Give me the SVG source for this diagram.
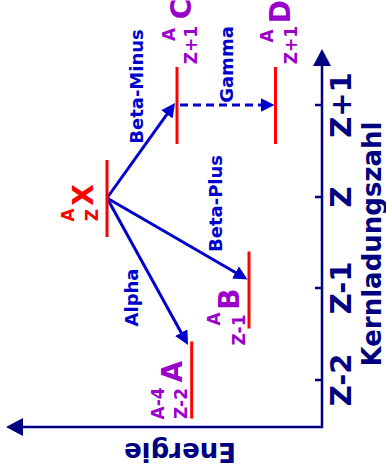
<svg xmlns="http://www.w3.org/2000/svg" width="386" height="472" viewBox="0 0 386 472">
<defs>
<style>
text{font-family:"DejaVu Sans","Liberation Sans",sans-serif;font-weight:bold;text-anchor:middle}
.ax{stroke:#000080;stroke-width:2.5;fill:none}
.axt{fill:#000080}
.arr{stroke:#0000cc;stroke-width:3;fill:none}
.arrt{fill:#0000cc;font-size:18px}
.lvl{stroke:#ff0000;stroke-width:3}
.big{font-size:28px}
.sm{font-size:17px}
.pur{fill:#9900cc}
.red{fill:#ff0000}
</style>
<marker id="ah" viewBox="0 0 14 14" markerWidth="14" markerHeight="14" markerUnits="userSpaceOnUse" refX="4" refY="7" orient="auto">
<path d="M0,0 L14,7 L0,14 z" fill="#0000cc"/>
</marker>
<marker id="axh" viewBox="0 0 17 18" markerWidth="17" markerHeight="18" markerUnits="userSpaceOnUse" refX="5" refY="9" orient="auto">
<path d="M0,0 L17,9 L0,18 z" fill="#000080"/>
</marker>
</defs>
<g id="axes">
<line class="ax" x1="322" y1="428" x2="322" y2="61" marker-end="url(#axh)"/>
<line class="ax" x1="323" y1="427" x2="18" y2="427" marker-end="url(#axh)"/>
<line class="ax" x1="315" y1="105" x2="322" y2="105"/>
<line class="ax" x1="315" y1="197" x2="322" y2="197"/>
<line class="ax" x1="315" y1="288" x2="322" y2="288"/>
<line class="ax" x1="315" y1="380" x2="322" y2="380"/>
<text class="axt" font-size="29" transform="translate(350.5,105) rotate(-90)">Z+1</text>
<text class="axt" font-size="29" transform="translate(350.5,197) rotate(-90)">Z</text>
<text class="axt" font-size="29" transform="translate(350.5,288) rotate(-90)">Z-1</text>
<text class="axt" font-size="29" transform="translate(350.5,380) rotate(-90)">Z-2</text>
<text class="axt" font-size="26" transform="translate(381,244) rotate(-90)">Kernladungszahl</text>
<text class="axt" font-size="26" transform="translate(180,443) rotate(180)">Energie</text>
</g>
<g id="connectors">
<line class="arr" x1="107" y1="198" x2="169.2" y2="111.1" marker-end="url(#ah)"/>
<line class="arr" x1="107" y1="198" x2="238.9" y2="274.5" marker-end="url(#ah)"/>
<line class="arr" x1="107" y1="198" x2="183.2" y2="336.2" marker-end="url(#ah)"/>
<line class="arr" x1="180" y1="105" x2="264.5" y2="105" stroke-dasharray="8,5" marker-end="url(#ah)"/>
<text class="arrt" transform="translate(143,86.5) rotate(-90)">Beta-Minus</text>
<text class="arrt" transform="translate(233,64.5) rotate(-90)">Gamma</text>
<text class="arrt" transform="translate(222,203.5) rotate(-90)">Beta-Plus</text>
<text class="arrt" transform="translate(138,297.5) rotate(-90)">Alpha</text>
</g>
<g id="X">
<line class="lvl" x1="107" y1="160" x2="107" y2="237"/>
<text class="red big" transform="translate(93,195) rotate(-90)">X</text>
<text class="red sm" transform="translate(73.5,215) rotate(-90)">A</text>
<text class="red sm" transform="translate(98,215) rotate(-90)">Z</text>
</g>
<g id="C">
<line class="lvl" x1="177" y1="67" x2="177" y2="144"/>
<text class="pur big" transform="translate(191,9) rotate(-90)">C</text>
<text class="pur sm" transform="translate(174.5,34.5) rotate(-90)">A</text>
<text class="pur sm" transform="translate(196.5,45) rotate(-90)">Z+1</text>
</g>
<g id="D">
<line class="lvl" x1="275.5" y1="67" x2="275.5" y2="144"/>
<text class="pur big" transform="translate(290,11.7) rotate(-90)">D</text>
<text class="pur sm" transform="translate(273,36) rotate(-90)">A</text>
<text class="pur sm" transform="translate(297,45) rotate(-90)">Z+1</text>
</g>
<g id="B">
<line class="lvl" x1="249" y1="251.5" x2="249" y2="328.5"/>
<text class="pur big" transform="translate(239,299) rotate(-90)">B</text>
<text class="pur sm" transform="translate(220,319) rotate(-90)">A</text>
<text class="pur sm" transform="translate(245,330) rotate(-90)">Z-1</text>
</g>
<g id="A">
<line class="lvl" x1="191.7" y1="341.5" x2="191.7" y2="418.5"/>
<text class="pur big" transform="translate(181.5,371.7) rotate(-90)">A</text>
<text class="pur sm" transform="translate(163.5,403.5) rotate(-90)">A-4</text>
<text class="pur sm" transform="translate(186.5,403.5) rotate(-90)">Z-2</text>
</g>
</svg>
